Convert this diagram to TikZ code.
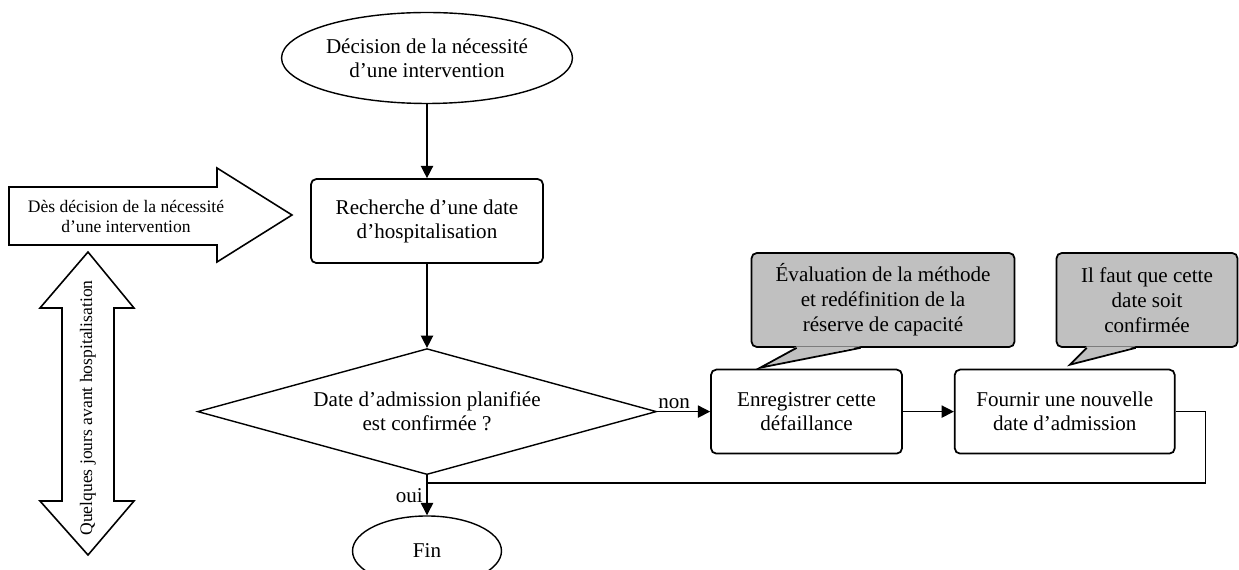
\documentclass[tikz,border=0pt]{standalone}
\usepackage{fontspec}
\setmainfont{Liberation Serif}
\usepackage{xcolor}
\usepackage{tikz}
\usetikzlibrary{positioning, arrows.meta, calc, shapes.geometric}
\definecolor{notegray}{RGB}{192,192,192}

\begin{document}
\begin{tikzpicture}[x=0.02cm, y=-0.02cm, line width=0.8pt,
    txt/.style={font=\fontsize{12}{13.7}\selectfont, align=center},
    terminal/.style={txt, draw, ellipse, inner sep=0pt},
    stepbox/.style={txt, draw, rounded corners=3pt, line width=1pt, inner sep=0pt, minimum height=1.68cm},
    notebox/.style={txt, draw, fill=notegray, rounded corners=3pt, line width=1pt, inner sep=0pt, minimum height=1.88cm, font=\fontsize{12}{14.2}\selectfont},
    bigarrow/.style={draw, line width=0.9pt},
    arr/.style={-{Triangle[length=7pt, width=7pt]}}]
    \useasboundingbox (0,0) rectangle (1239,570);
    % main flow
    \node[terminal, minimum width=5.82cm, minimum height=1.82cm] (start) at (427,58) {Décision de la nécessité\\d’une intervention};
    \node[stepbox, minimum width=4.64cm, below = 1.48cm of start] (search) {Recherche d’une date\\d’hospitalisation};
    \node[txt, draw, diamond, aspect=3.64, inner sep=0pt, minimum width=9.18cm, minimum height=2.52cm, below = 1.68cm of search] (check) {Date d’admission planifiée\\est confirmée ?};
    \node[stepbox, minimum width=3.82cm, right = 1.06cm of check] (log) {Enregistrer cette\\défaillance};
    \node[stepbox, minimum width=4.4cm, right = 1.02cm of log] (newdate) {Fournir une nouvelle\\date d’admission};
    \node[terminal, minimum width=2.98cm, minimum height=1.4cm, below = 0.8cm of check] (fin) {Fin};
    \draw[arr] (start) -- (search);
    \draw[arr] (search) -- (check);
    \draw[arr] (check) -- node[txt, above, pos=0.32, inner sep=1pt] {non} (log);
    \draw[arr] (log) -- (newdate);
    \coordinate (merge) at (check.south |- 0,483);
    \draw (newdate.east) -- ++(30,0) |- (merge);
    \draw[arr] (check.south) -- node[txt, left, inner sep=2pt] {oui} (fin);
    % notes
    \node[notebox, minimum width=5.26cm] (note1) at (883,300) {Évaluation de la méthode\\et redéfinition de la\\réserve de capacité};
    \node[notebox, minimum width=3.62cm] (note2) at (1147,300) {Il faut que cette\\date soit\\confirmée};
    \coordinate (tip1) at ($(log.north west)+(50,-1)$);
    \coordinate (tip2) at ($(newdate.north west)+(116,-4)$);
    \fill[notegray] ($(note1.south west)+(46,-1.5)$) -- (tip1) -- ($(note1.south west)+(110,-1.5)$) -- cycle;
    \draw[line width=1pt] ($(note1.south west)+(46,0)$) -- (tip1) -- ($(note1.south west)+(110,0)$);
    \fill[notegray] ($(note2.south west)+(31,-1.5)$) -- (tip2) -- ($(note2.south west)+(80,-1.5)$) -- cycle;
    \draw[line width=1pt] ($(note2.south west)+(31,0)$) -- (tip2) -- ($(note2.south west)+(80,0)$);
    % time arrows on the left
    \draw[bigarrow] (9,187) -- (217,187) -- (217,168) -- (292,215) -- (217,262) -- (217,245) -- (9,245) -- cycle;
    \node[align=center, font=\fontsize{10}{11.4}\selectfont] (since) at (126,216) {Dès décision de la nécessité\\d’une intervention};
    \draw[bigarrow] (88,252) -- (134,308) -- (114,308) -- (114,501) -- (134,501) -- (88,555) -- (40,501) -- (62,501) -- (62,308) -- (40,308) -- cycle;
    \node[rotate=90, font=\fontsize{10}{11.4}\selectfont] (days) at (88,408) {Quelques jours avant hospitalisation};
\end{tikzpicture}
\end{document}
